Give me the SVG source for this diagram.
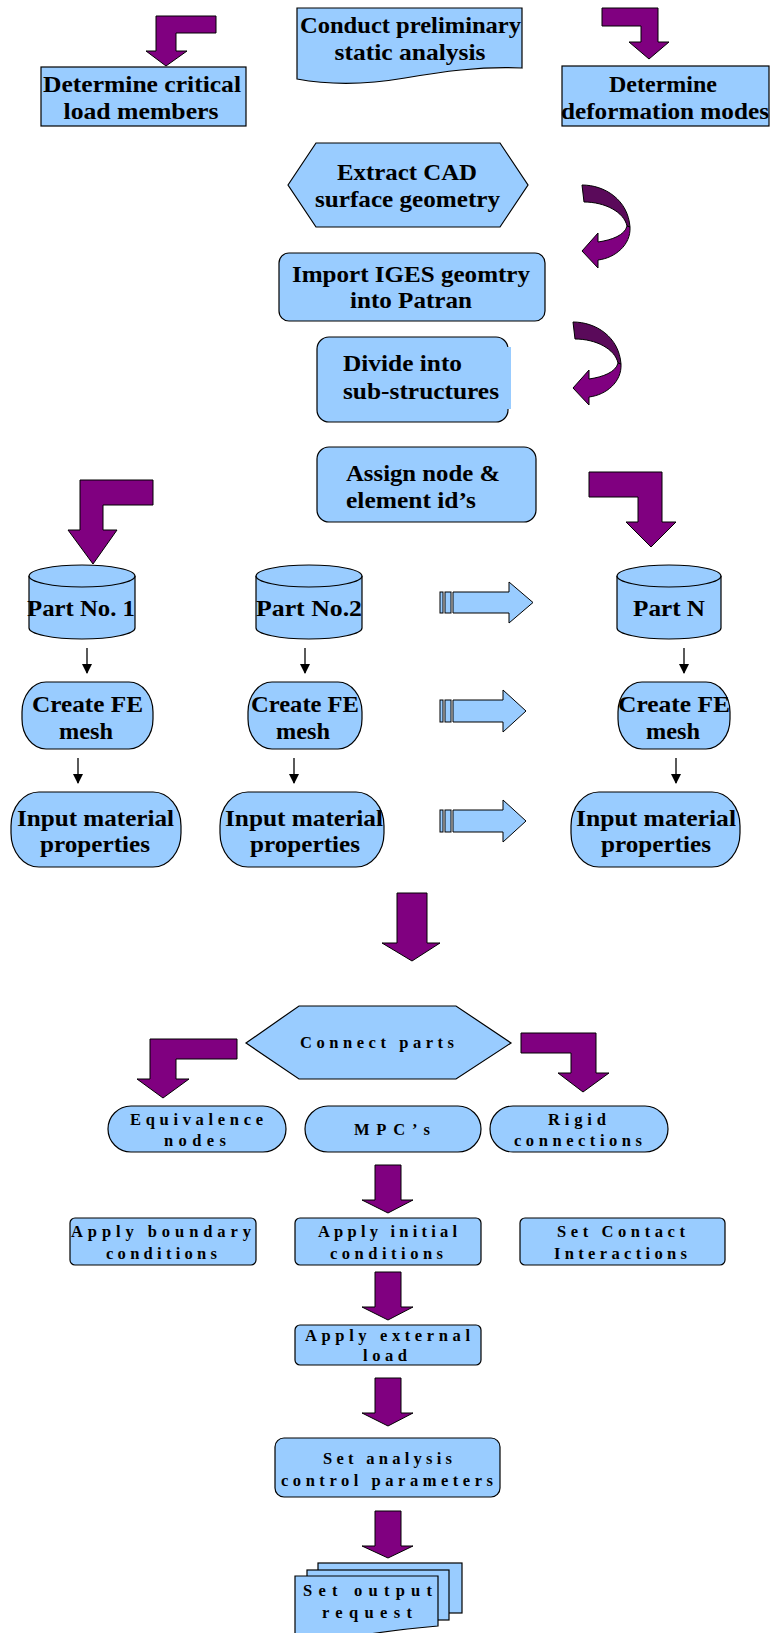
<svg xmlns="http://www.w3.org/2000/svg" width="771" height="1633" viewBox="0 0 771 1633">
<defs>
<style>
.box{fill:#99CCFF;stroke:#000;stroke-width:1.2}
.pa{fill:#800080;stroke:#000;stroke-width:1}
.pd{fill:#5a0a5a;stroke:#000;stroke-width:1}
.ba{fill:#99CCFF;stroke:#000;stroke-width:1}
.t{font-family:"Liberation Serif","Times New Roman",serif;font-weight:bold;font-size:24px;fill:#000;text-anchor:middle}
.tl{font-family:"Liberation Serif","Times New Roman",serif;font-weight:bold;font-size:24px;fill:#000}
.s{font-family:"Liberation Serif","Times New Roman",serif;font-weight:bold;font-size:16.5px;fill:#000;text-anchor:middle}
.ln{stroke:#000;stroke-width:1.3;fill:none}
</style>
<marker id="ah" markerUnits="userSpaceOnUse" markerWidth="10" markerHeight="10" refX="9" refY="5" orient="auto">
<path d="M0,0 L10,5 L0,10 Z" fill="#000"/>
</marker>
</defs>
<rect width="771" height="1633" fill="#fff"/>

<g id="connectors">
<polygon class="pa" points="216,16 156,16 156,51 146,51 166,66 187,51 176,51 176,33 216,33"/>
<polygon class="pa" points="602,8 658,8 658,42 669,42 649,59 629,42 641,42 641,26 602,26"/>
<g id="curve1">
<path class="pd" d="M582,185 C605,185 628,200 630,227 L627,226 C624,212 605,202 584,202 Z"/>
<path class="pa" d="M630,227 C631,245 615,258 598,260 L598,268 L582,251 L598,233 L598,242 C612,240 625,235 627,226 Z"/>
</g>
<g id="curve2" transform="translate(-9,137)">
<path class="pd" d="M582,185 C605,185 628,200 630,227 L627,226 C624,212 605,202 584,202 Z"/>
<path class="pa" d="M630,227 C631,245 615,258 598,260 L598,268 L582,251 L598,233 L598,242 C612,240 625,235 627,226 Z"/>
</g>
<polygon class="pa" points="153,480 80,480 80,530 68,530 93,564 117,530 103,530 103,505 153,505"/>
<polygon class="pa" points="589,472 662,472 662,522 676,522 651,547 626,522 638,522 638,497 589,497"/>
<g id="blk1">
<rect class="ba" x="440" y="592" width="3" height="21"/>
<rect class="ba" x="445" y="592" width="6" height="21"/>
<polygon class="ba" points="453,592 509,592 509,582 533,602.5 509,623 509,613 453,613"/>
</g>
<g id="blk2">
<rect class="ba" x="440" y="700" width="3" height="22"/>
<rect class="ba" x="445" y="700" width="6" height="22"/>
<polygon class="ba" points="453,700 503,700 503,690 526,711 503,732 503,722 453,722"/>
</g>
<g id="blk3">
<rect class="ba" x="440" y="810" width="3" height="22"/>
<rect class="ba" x="445" y="810" width="6" height="22"/>
<polygon class="ba" points="453,810 503,810 503,800 526,821 503,842 503,832 453,832"/>
</g>
<line class="ln" x1="87" y1="648" x2="87" y2="673" marker-end="url(#ah)"/>
<line class="ln" x1="305" y1="648" x2="305" y2="673" marker-end="url(#ah)"/>
<line class="ln" x1="684" y1="648" x2="684" y2="673" marker-end="url(#ah)"/>
<line class="ln" x1="78" y1="758" x2="78" y2="783" marker-end="url(#ah)"/>
<line class="ln" x1="294" y1="758" x2="294" y2="783" marker-end="url(#ah)"/>
<line class="ln" x1="676" y1="758" x2="676" y2="783" marker-end="url(#ah)"/>
<polygon class="pa" points="397,893 427,893 427,943 440,943 412,961 382,943 397,943"/>
<polygon class="pa" points="237,1039 150,1039 150,1079 137,1079 163,1098 189,1079 176,1079 176,1059 237,1059"/>
<polygon class="pa" points="521,1033 596,1033 596,1073 609,1073 583,1092 558,1073 571,1073 571,1053 521,1053"/>
<polygon class="pa" points="375,1165 401,1165 401,1200 413,1200 388,1213 362,1200 375,1200"/>
<polygon class="pa" points="375,1272 401,1272 401,1307 413,1307 388,1320 362,1307 375,1307"/>
<polygon class="pa" points="375,1378 401,1378 401,1413 413,1413 388,1426 362,1413 375,1413"/>
<polygon class="pa" points="375,1511 401,1511 401,1546 413,1546 388,1558 362,1546 375,1546"/>
</g>

<g id="n-conduct">
<path class="box" d="M297,8 H522 V68 C480,66 440,72 405,78 C370,84 335,86 297,79 Z"/>
<text class="t" x="410.5" y="33" textLength="221" lengthAdjust="spacingAndGlyphs">Conduct preliminary</text>
<text class="t" x="410" y="60" textLength="151" lengthAdjust="spacingAndGlyphs">static analysis</text>
</g>
<g id="n-critical">
<rect class="box" x="41" y="67" width="205" height="59"/>
<text class="t" x="142" y="92" textLength="198" lengthAdjust="spacingAndGlyphs">Determine critical</text>
<text class="t" x="141" y="119" textLength="155" lengthAdjust="spacingAndGlyphs">load members</text>
</g>
<g id="n-deform">
<rect class="box" x="562" y="66" width="207" height="60"/>
<text class="t" x="663" y="92" textLength="108" lengthAdjust="spacingAndGlyphs">Determine</text>
<text class="t" x="665" y="119" textLength="208" lengthAdjust="spacingAndGlyphs">deformation modes</text>
</g>
<g id="n-extract">
<polygon class="box" points="288,185 316,143 500,143 528,185 500,227 316,227"/>
<text class="t" x="407" y="180" textLength="140" lengthAdjust="spacingAndGlyphs">Extract CAD</text>
<text class="t" x="407.5" y="207" textLength="185" lengthAdjust="spacingAndGlyphs">surface geometry</text>
</g>
<g id="n-import">
<rect class="box" x="279" y="253" width="266" height="68" rx="10"/>
<text class="t" x="411" y="282" textLength="238" lengthAdjust="spacingAndGlyphs">Import IGES geomtry</text>
<text class="t" x="411" y="308" textLength="122" lengthAdjust="spacingAndGlyphs">into Patran</text>
</g>
<g id="n-divide">
<rect class="box" x="317" y="337" width="191" height="85" rx="12"/>
<rect x="505" y="347" width="6" height="62" fill="#99CCFF"/>
<text class="tl" x="343" y="371" textLength="119" lengthAdjust="spacingAndGlyphs">Divide into</text>
<text class="tl" x="343" y="399" textLength="156" lengthAdjust="spacingAndGlyphs">sub-structures</text>
</g>
<g id="n-assign">
<rect class="box" x="317" y="447" width="219" height="75" rx="12"/>
<text class="tl" x="346" y="481" textLength="154" lengthAdjust="spacingAndGlyphs">Assign node &amp;</text>
<text class="tl" x="346" y="508" textLength="130" lengthAdjust="spacingAndGlyphs">element id’s</text>
</g>
<g id="n-part1">
<path class="box" d="M29,576 V628 A53,11 0 0 0 135,628 V576"/>
<ellipse class="box" cx="82" cy="576" rx="53" ry="11"/>
<text class="t" x="81" y="616" textLength="108" lengthAdjust="spacingAndGlyphs">Part No. 1</text>
</g>
<g id="n-part2">
<path class="box" d="M256,576 V628 A53,11 0 0 0 362,628 V576"/>
<ellipse class="box" cx="309" cy="576" rx="53" ry="11"/>
<text class="t" x="309" y="616" textLength="106" lengthAdjust="spacingAndGlyphs">Part No.2</text>
</g>
<g id="n-partn">
<path class="box" d="M617,576 V628 A52,11 0 0 0 721,628 V576"/>
<ellipse class="box" cx="669" cy="576" rx="52" ry="11"/>
<text class="t" x="669" y="616" textLength="72" lengthAdjust="spacingAndGlyphs">Part N</text>
</g>
<g id="n-mesh1">
<rect class="box" x="22" y="682" width="131" height="67" rx="24" ry="30"/>
<text class="t" x="87.5" y="712" textLength="111" lengthAdjust="spacingAndGlyphs">Create FE</text>
<text class="t" x="86" y="739" textLength="54" lengthAdjust="spacingAndGlyphs">mesh</text>
</g>
<g id="n-mesh2">
<rect class="box" x="248" y="682" width="114" height="67" rx="24" ry="30"/>
<text class="t" x="305" y="712" textLength="108" lengthAdjust="spacingAndGlyphs">Create FE</text>
<text class="t" x="303" y="739" textLength="54" lengthAdjust="spacingAndGlyphs">mesh</text>
</g>
<g id="n-meshn">
<rect class="box" x="618" y="682" width="112" height="67" rx="24" ry="30"/>
<text class="t" x="674" y="712" textLength="112" lengthAdjust="spacingAndGlyphs">Create FE</text>
<text class="t" x="673" y="739" textLength="54" lengthAdjust="spacingAndGlyphs">mesh</text>
</g>
<g id="n-mat1">
<rect class="box" x="11" y="792" width="170" height="75" rx="28" ry="34"/>
<text class="t" x="95.5" y="826" textLength="157" lengthAdjust="spacingAndGlyphs">Input material</text>
<text class="t" x="95" y="852" textLength="110" lengthAdjust="spacingAndGlyphs">properties</text>
</g>
<g id="n-mat2">
<rect class="box" x="220" y="792" width="164" height="75" rx="28" ry="34"/>
<text class="t" x="304" y="826" textLength="158" lengthAdjust="spacingAndGlyphs">Input material</text>
<text class="t" x="305" y="852" textLength="110" lengthAdjust="spacingAndGlyphs">properties</text>
</g>
<g id="n-matn">
<rect class="box" x="571" y="792" width="169" height="75" rx="28" ry="34"/>
<text class="t" x="656" y="826" textLength="160" lengthAdjust="spacingAndGlyphs">Input material</text>
<text class="t" x="656" y="852" textLength="110" lengthAdjust="spacingAndGlyphs">properties</text>
</g>
<g id="n-connect">
<polygon class="box" points="246,1043 299,1006 456,1006 511,1043 456,1079 299,1079"/>
<text class="s" x="377" y="1048" textLength="154" lengthAdjust="spacing">Connect parts</text>
</g>
<g id="n-equiv">
<rect class="box" x="108" y="1106" width="178" height="46" rx="23"/>
<text class="s" x="196.5" y="1125" textLength="133" lengthAdjust="spacing">Equivalence</text>
<text class="s" x="195" y="1146" textLength="62" lengthAdjust="spacing">nodes</text>
</g>
<g id="n-mpc">
<rect class="box" x="305" y="1106" width="176" height="46" rx="23"/>
<text class="s" x="392" y="1135" textLength="76" lengthAdjust="spacing">MPC’s</text>
</g>
<g id="n-rigid">
<rect class="box" x="490" y="1106" width="178" height="46" rx="23"/>
<text class="s" x="577" y="1125" textLength="58" lengthAdjust="spacing">Rigid</text>
<text class="s" x="578" y="1146" textLength="128" lengthAdjust="spacing">connections</text>
</g>
<g id="n-boundary">
<rect class="box" x="70" y="1218" width="186" height="47" rx="5"/>
<text class="s" x="161" y="1237" textLength="180" lengthAdjust="spacing">Apply boundary</text>
<text class="s" x="161.5" y="1259" textLength="111" lengthAdjust="spacing">conditions</text>
</g>
<g id="n-initial">
<rect class="box" x="295" y="1218" width="186" height="47" rx="5"/>
<text class="s" x="387.5" y="1237" textLength="139" lengthAdjust="spacing">Apply initial</text>
<text class="s" x="386.5" y="1259" textLength="113" lengthAdjust="spacing">conditions</text>
</g>
<g id="n-contact">
<rect class="box" x="520" y="1218" width="205" height="47" rx="5"/>
<text class="s" x="621" y="1237" textLength="128" lengthAdjust="spacing">Set Contact</text>
<text class="s" x="620.5" y="1259" textLength="133" lengthAdjust="spacing">Interactions</text>
</g>
<g id="n-external">
<rect class="box" x="295" y="1325" width="186" height="40" rx="5"/>
<text class="s" x="387.5" y="1341" textLength="165" lengthAdjust="spacing">Apply external</text>
<text class="s" x="385" y="1361" textLength="44" lengthAdjust="spacing">load</text>
</g>
<g id="n-analysis">
<rect class="box" x="275" y="1438" width="225" height="59" rx="9"/>
<text class="s" x="387.5" y="1464" textLength="129" lengthAdjust="spacing">Set analysis</text>
<text class="s" x="387" y="1486" textLength="212" lengthAdjust="spacing">control parameters</text>
</g>
<g id="n-output">
<rect class="box" x="318" y="1563" width="144" height="50"/>
<rect class="box" x="307" y="1570" width="142" height="50"/>
<path class="box" d="M295,1576 H438 V1626 C415,1628 395,1630 370,1634 L295,1640 Z"/>
<text class="s" x="367.5" y="1596" textLength="129" lengthAdjust="spacing">Set output</text>
<text class="s" x="367" y="1618" textLength="90" lengthAdjust="spacing">request</text>
</g>
</svg>
